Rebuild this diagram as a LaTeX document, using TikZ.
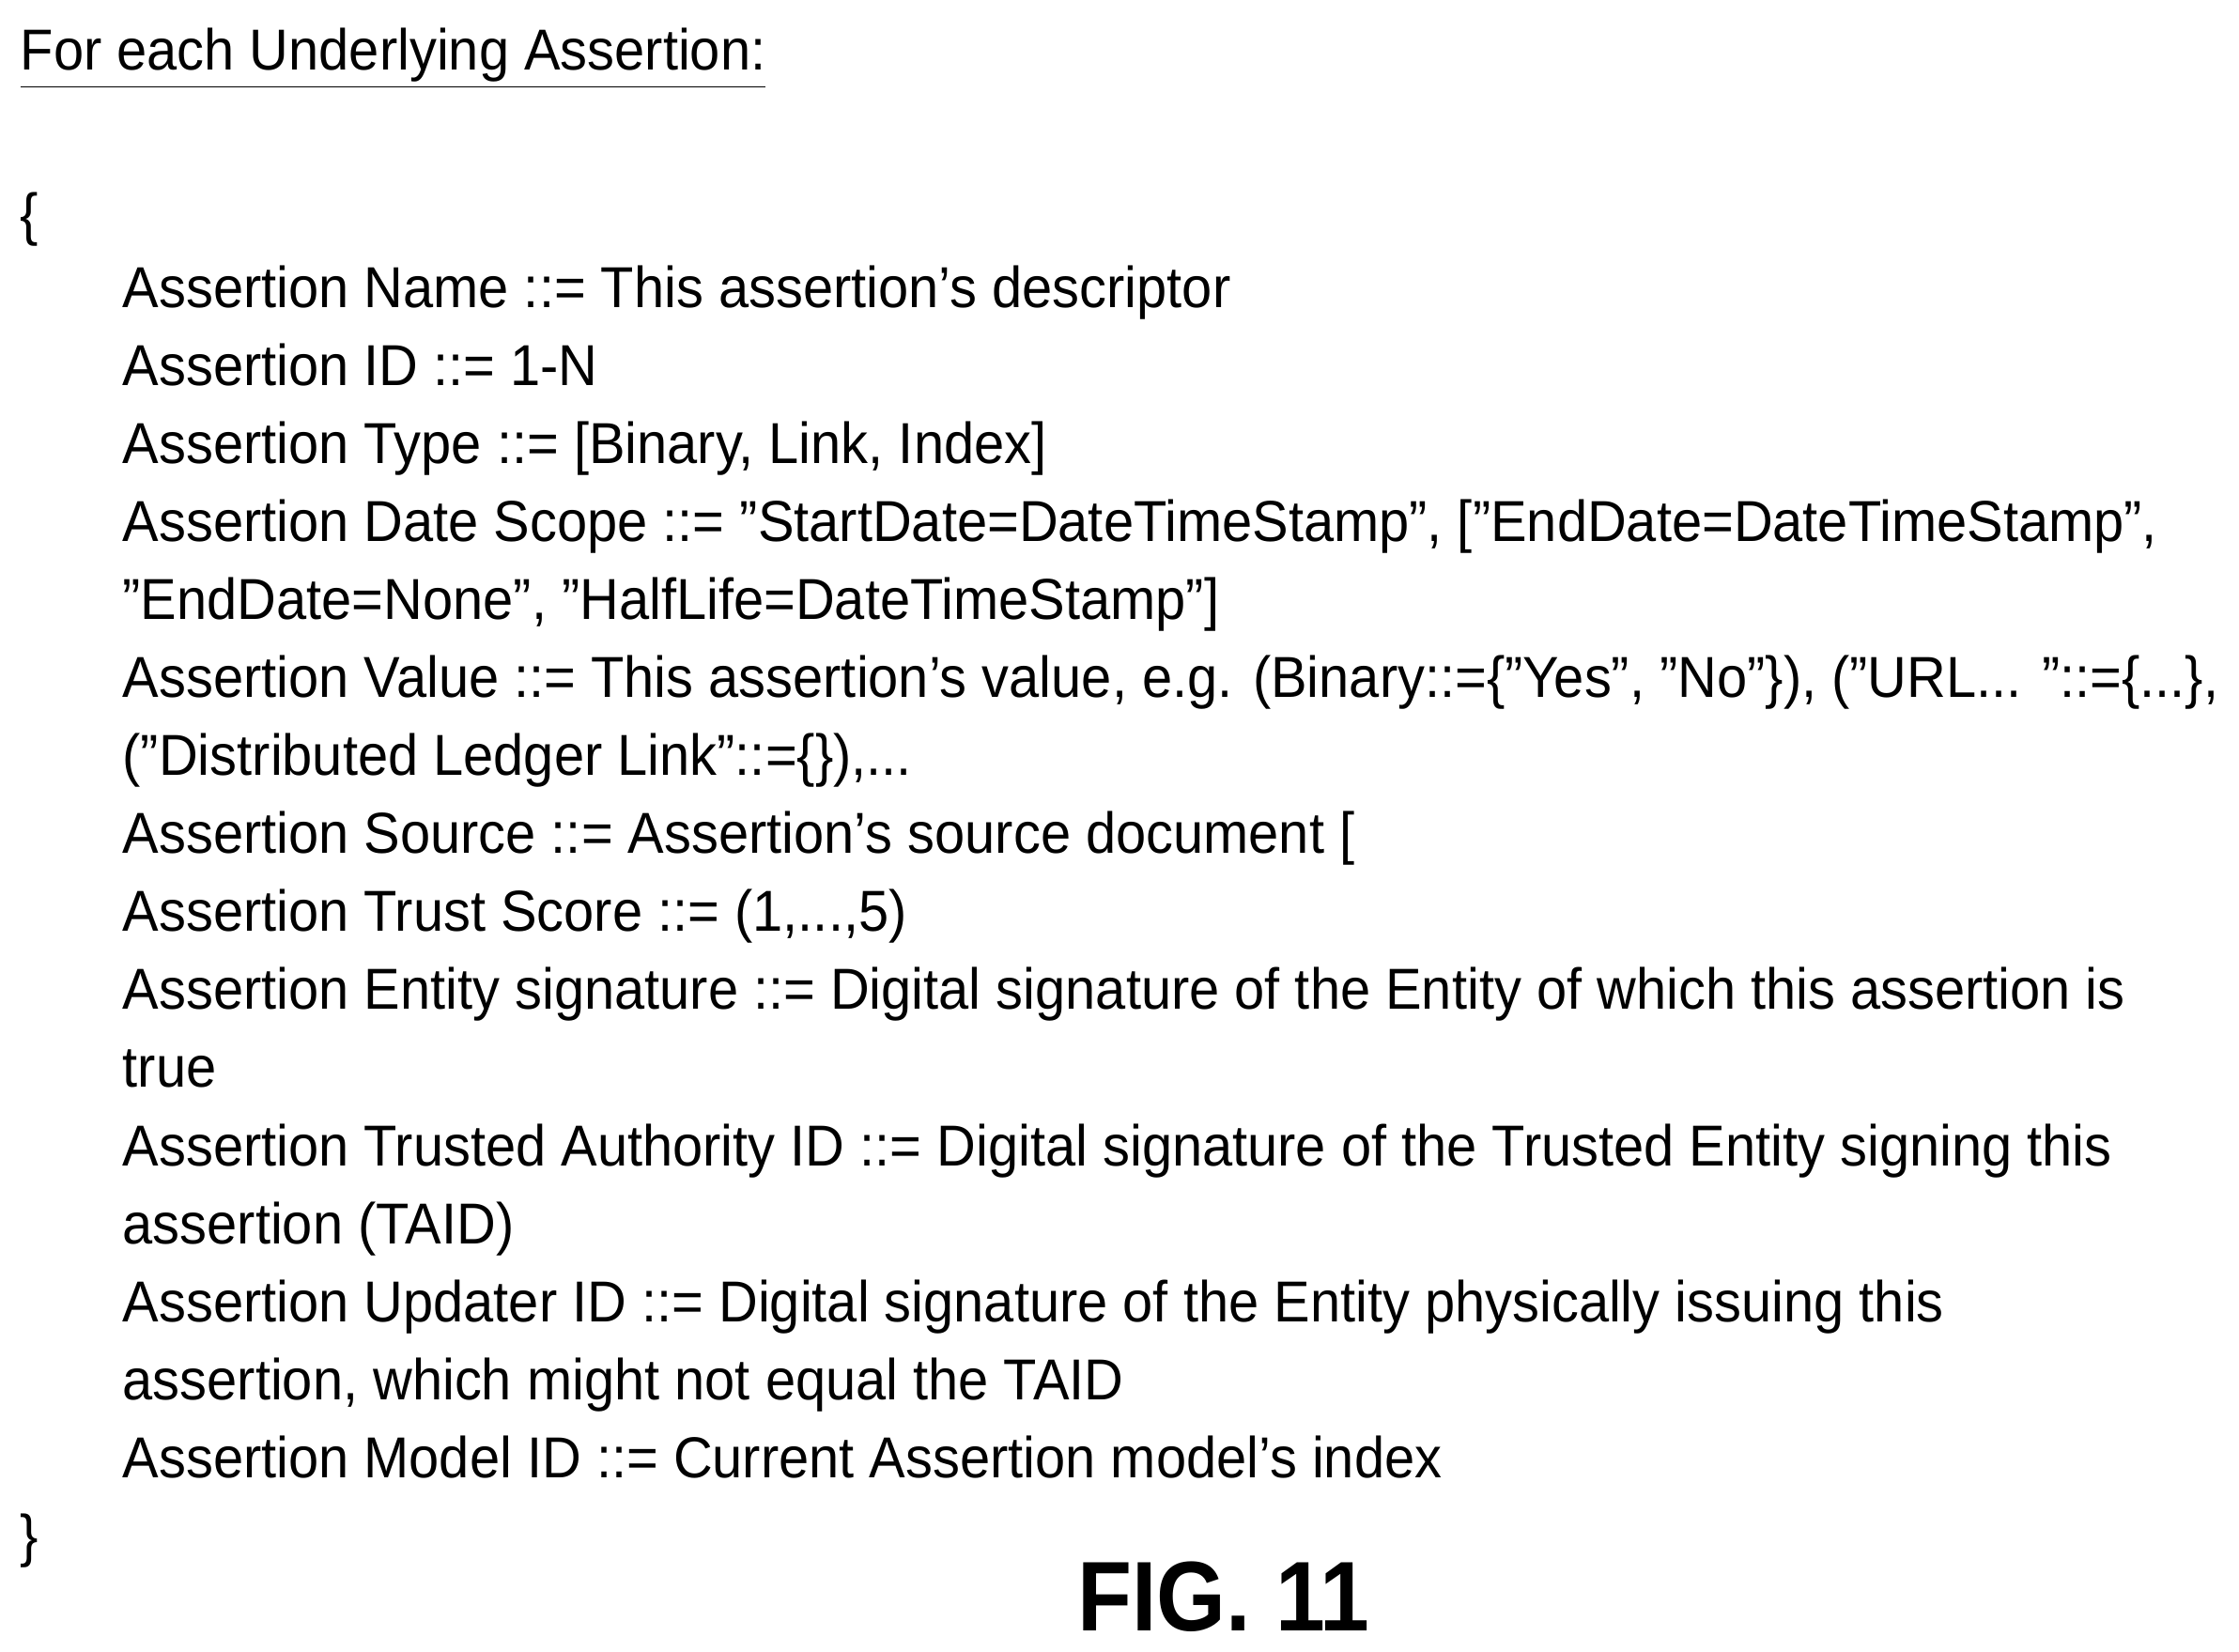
\documentclass[tikz,border=0pt]{standalone}
\usepackage{fontspec}
\setmainfont[FakeStretch=0.94]{Liberation Sans}
\newfontfamily\figfont[FakeStretch=0.9]{Liberation Sans}
\newcommand{\qq}{\symbol{34}}
\newcommand{\ap}{\symbol{39}}
\tikzset{
  row/.style={anchor=base west, inner sep=0pt, font=\fontsize{17.5}{20}\selectfont},
}
\begin{document}
\begin{tikzpicture}[y=-1cm]
    \useasboundingbox (0,0) rectangle (23.84,17.59);
    \node [row] (title) at (0.21,0.75) {\underline{For each Underlying Assertion:}};
    \node [row] (open) at (0.21,2.50) {\{};
    \node [row] (l1) at (1.30,3.28) {Assertion Name ::= This assertion\ap s descriptor};
    \node [row] (l2) at (1.30,4.11) {Assertion ID ::= 1-N};
    \node [row] (l3) at (1.30,4.94) {Assertion Type ::= [Binary, Link, Index]};
    \node [row] (l4) at (1.30,5.77) {Assertion Date Scope ::= \qq StartDate=DateTimeStamp\qq, [\qq EndDate=DateTimeStamp\qq,};
    \node [row] (l4b) at (1.30,6.60) {\qq EndDate=None\qq, \qq HalfLife=DateTimeStamp\qq]};
    \node [row] (l5) at (1.30,7.43) {Assertion Value ::= This assertion\ap s value, e.g. (Binary::=\{\qq Yes\qq, \qq No\qq\}), (\qq URL... \qq::=\{...\},};
    \node [row] (l5b) at (1.30,8.26) {(\qq Distributed Ledger Link\qq::=\{\}),...};
    \node [row] (l6) at (1.30,9.09) {Assertion Source ::= Assertion\ap s source document [};
    \node [row] (l7) at (1.30,9.92) {Assertion Trust Score ::= (1,...,5)};
    \node [row] (l8) at (1.30,10.75) {Assertion Entity signature ::= Digital signature of the Entity of which this assertion is};
    \node [row] (l8b) at (1.30,11.58) {true};
    \node [row] (l9) at (1.30,12.41) {Assertion Trusted Authority ID ::= Digital signature of the Trusted Entity signing this};
    \node [row] (l9b) at (1.30,13.24) {assertion (TAID)};
    \node [row] (l10) at (1.30,14.07) {Assertion Updater ID ::= Digital signature of the Entity physically issuing this};
    \node [row] (l10b) at (1.30,14.90) {assertion, which might not equal the TAID};
    \node [row] (l11) at (1.30,15.73) {Assertion Model ID ::= Current Assertion model\ap s index};
    \node [row] (close) at (0.21,16.56) {\}};
    \node [anchor=base, inner sep=0pt, font=\fontsize{30}{34}\figfont\bfseries] (fig) at (13.03,17.36) {FIG. 11};
\end{tikzpicture}
\end{document}
